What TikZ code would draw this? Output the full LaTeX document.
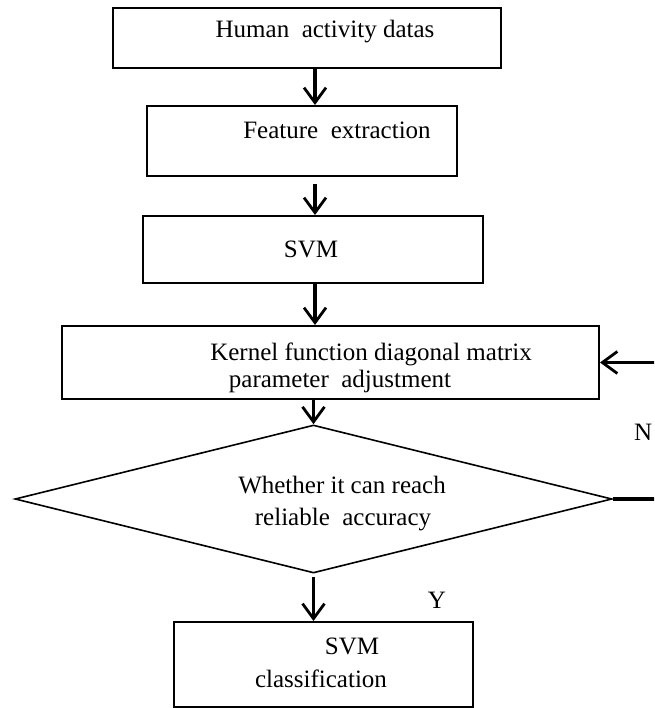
\documentclass[tikz,border=0pt]{standalone}
\usepackage{fontspec}
\setmainfont{Liberation Serif}
\usetikzlibrary{arrows.meta,shapes.geometric}
\begin{document}
\begin{tikzpicture}[x=1pt,y=-1pt,
  box/.style={draw,line width=2pt,rectangle,inner sep=0pt},
  dia/.style={draw,line width=1.6pt,diamond,inner sep=0pt},
  txt/.style={inner sep=0pt,anchor=base,font=\fontsize{25}{31}\selectfont},
  arr/.style={line width=3.2pt,-{Straight Barb[length=15pt,width=22pt,line width=2.8pt]}},
  lin/.style={line width=3.2pt}]
\clip (0,0) rectangle (654,708);
\fill[white] (0,0) rectangle (654,708);
% boxes
\node[box,minimum width=388pt,minimum height=60pt] (b1) at (307,38) {};
\node[box,minimum width=310pt,minimum height=70pt] (b2) at (302,141) {};
\node[box,minimum width=340pt,minimum height=67pt] (b3) at (313,249.5) {};
\node[box,minimum width=537pt,minimum height=73pt] (b4) at (330.5,362.5) {};
\node[dia,minimum width=597pt,minimum height=148pt] (d) at (313.5,499) {};
\node[box,minimum width=299pt,minimum height=85pt] (b5) at (323.5,664.5) {};
% texts
\node[txt] (t1) at (325,38) {Human\ \ activity datas};
\node[txt] (t2) at (337,139) {Feature\ \ extraction};
\node[txt] (t3) at (311,258) {SVM};
\node[txt] (t4a) at (371,360) {Kernel function diagonal matrix};
\node[txt] (t4b) at (340,387) {parameter\ \ adjustment};
\node[txt] (t5a) at (342,493) {Whether it can reach};
\node[txt] (t5b) at (343,525) {reliable\ \ accuracy};
\node[txt] (t6a) at (352,654) {SVM};
\node[txt] (t6b) at (321,687) {classification};
\node[txt] (ly) at (437,608) {Y};
\node[txt,anchor=base west] (ln) at (634,440) {N};
% connectors
\coordinate (col) at (315,0);
\coordinate (loop) at (680,0);
\draw[arr] (b1.south -| col) -- (b2.north -| col);
\draw[arr] ([yshift=-7pt]b2.south -| col) -- (b3.north -| col);
\draw[arr] (b3.south -| col) -- (b4.north -| col);
\draw[arr] (b4.south -| d.north) -- (d.north);
\draw[arr] ([yshift=-3pt]d.south) -- (b5.north -| d.south);
\draw[lin] (d.east) -- (d.east -| loop) -- (b4.east -| loop);
\draw[arr] (b4.east -| loop) -- (b4.east);
\end{tikzpicture}
\end{document}
